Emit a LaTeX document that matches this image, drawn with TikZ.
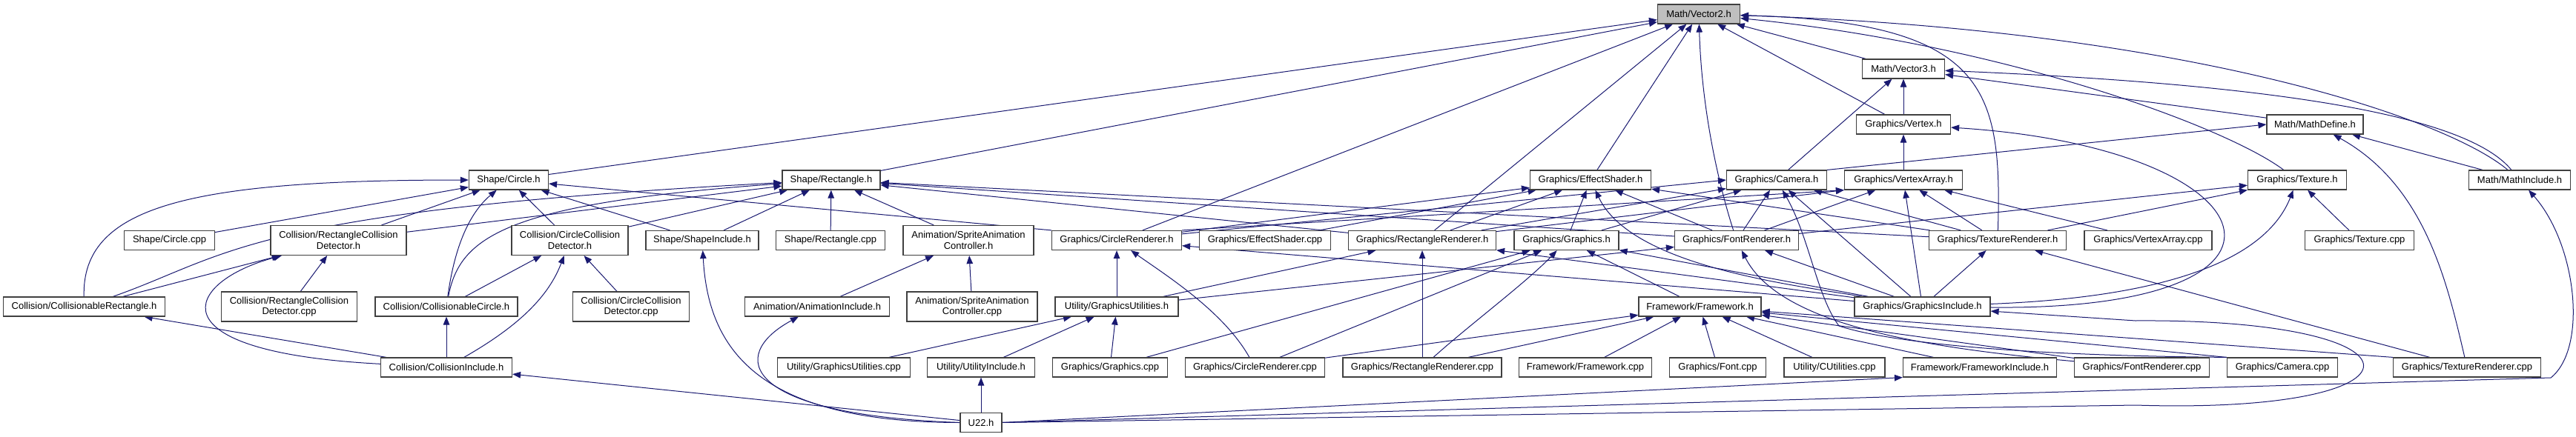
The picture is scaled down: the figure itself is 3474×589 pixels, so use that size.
\documentclass[tikz,border=0pt]{standalone}
\usepackage{fontspec}
\setmainfont{Liberation Sans}
\usetikzlibrary{arrows.meta,backgrounds}
\definecolor{edgeblue}{HTML}{191970}
\definecolor{boxgray}{HTML}{404040}
\definecolor{curfill}{HTML}{BFBFBF}

\begin{document}
\begin{tikzpicture}[x=1pt, y=-1pt,
    file/.style={draw=boxgray, line width=1.2pt, fill=white, minimum height=26pt, inner sep=0pt, font=\fontsize{13}{14.5}\selectfont},
    twoline/.style={file, minimum height=40pt, align=center},
    inc/.style={draw=edgeblue, line width=1pt, -{Triangle[length=11pt,width=8.5pt]}}]
\useasboundingbox (0,0) rectangle (3474,589);

\node[file, fill=curfill, minimum width=111] (vtwo) at (2291,19) {Math/Vector2.h};
\node[file, minimum width=111] (vthree) at (2567,93) {Math/Vector3.h};
\node[file, minimum width=127] (vertex) at (2567,168) {Graphics/Vertex.h};
\node[file, minimum width=130] (mdefine) at (3122,168) {Math/MathDefine.h};

\node[file, minimum width=107] (circh) at (686,243) {Shape/Circle.h};
\node[file, minimum width=132] (recth) at (1121,243) {Shape/Rectangle.h};
\node[file, minimum width=163] (shader) at (2145,243) {Graphics/EffectShader.h};
\node[file, minimum width=135] (camera) at (2396,243) {Graphics/Camera.h};
\node[file, minimum width=159] (varray) at (2567,243) {Graphics/VertexArray.h};
\node[file, minimum width=133] (texture) at (3098,243) {Graphics/Texture.h};
\node[file, minimum width=137] (minclude) at (3398,243) {Math/MathInclude.h};

\node[file, minimum width=122] (circcpp) at (228.5,324.5) {Shape/Circle.cpp};
\node[twoline, minimum width=183] (rcdh) at (456.5,324.5) {Collision/RectangleCollision\\Detector.h};
\node[twoline, minimum width=157] (ccdh) at (768.5,324.5) {Collision/CircleCollision\\Detector.h};
\node[file, minimum width=152] (shinc) at (947,324.5) {Shape/ShapeInclude.h};
\node[file, minimum width=147] (rectcpp) at (1120,324.5) {Shape/Rectangle.cpp};
\node[twoline, minimum width=176] (sach) at (1306,324.5) {Animation/SpriteAnimation\\Controller.h};
\node[file, minimum width=175] (crendh) at (1506,324.5) {Graphics/CircleRenderer.h};
\node[file, minimum width=177] (shadercpp) at (1706,324.5) {Graphics/EffectShader.cpp};
\node[file, minimum width=199] (rrendh) at (1918,324.5) {Graphics/RectangleRenderer.h};
\node[file, minimum width=141] (graphh) at (2112.5,324.5) {Graphics/Graphics.h};
\node[file, minimum width=167] (frendh) at (2342,324.5) {Graphics/FontRenderer.h};
\node[file, minimum width=185] (trendh) at (2694,324.5) {Graphics/TextureRenderer.h};
\node[file, minimum width=172] (varraycpp) at (2897,324.5) {Graphics/VertexArray.cpp};
\node[file, minimum width=147] (texcpp) at (3182,324.5) {Graphics/Texture.cpp};

\node[file, minimum width=218] (colrect) at (113.6,414) {Collision/CollisionableRectangle.h};
\node[twoline, minimum width=183] (rcdcpp) at (390,414) {Collision/RectangleCollision\\Detector.cpp};
\node[file, minimum width=192] (colcirc) at (602,414) {Collision/CollisionableCircle.h};
\node[twoline, minimum width=157] (ccdcpp) at (851,414) {Collision/CircleCollision\\Detector.cpp};
\node[file, minimum width=195] (aniinc) at (1102,414) {Animation/AnimationInclude.h};
\node[twoline, minimum width=176] (sacpp) at (1311,414) {Animation/SpriteAnimation\\Controller.cpp};
\node[file, minimum width=166] (gutilh) at (1506,414) {Utility/GraphicsUtilities.h};
\node[file, minimum width=165] (fwh) at (2292.5,414) {Framework/Framework.h};
\node[file, minimum width=183] (ginc) at (2592.5,414) {Graphics/GraphicsInclude.h};

\node[file, minimum width=177] (colinc) at (602,496) {Collision/CollisionInclude.h};
\node[file, minimum width=179] (gutilcpp) at (1138,496) {Utility/GraphicsUtilities.cpp};
\node[file, minimum width=145] (utilinc) at (1323,496) {Utility/UtilityInclude.h};
\node[file, minimum width=155] (graphcpp) at (1497,496) {Graphics/Graphics.cpp};
\node[file, minimum width=188] (crendcpp) at (1692.5,496) {Graphics/CircleRenderer.cpp};
\node[file, minimum width=214] (rrendcpp) at (1918,496) {Graphics/RectangleRenderer.cpp};
\node[file, minimum width=179] (fwcpp) at (2138,496) {Framework/Framework.cpp};
\node[file, minimum width=130] (fontcpp) at (2316.5,496) {Graphics/Font.cpp};
\node[file, minimum width=136] (cutilcpp) at (2474,496) {Utility/CUtilities.cpp};
\node[file, minimum width=207] (fwinc) at (2670,496) {Framework/FrameworkInclude.h};
\node[file, minimum width=182] (frendcpp) at (2888.5,496) {Graphics/FontRenderer.cpp};
\node[file, minimum width=149] (camcpp) at (3078,496) {Graphics/Camera.cpp};
\node[file, minimum width=199] (trendcpp) at (3327,496) {Graphics/TextureRenderer.cpp};

\node[file, minimum width=56] (u22) at (1323,570.5) {U22.h};

\begin{scope}[on background layer]
\draw[inc] (circh) -- (vtwo);
\draw[inc] (recth) -- (vtwo);
\draw[inc] (crendh) -- (vtwo);
\draw[inc] (rrendh) -- (vtwo);
\draw[inc] (shader) -- (vtwo);
\draw[inc] (frendh) .. controls (2318,250) and (2295,150) .. (vtwo);
\draw[inc] (vthree) -- (vtwo);
\draw[inc] (vertex) -- (vtwo);
\draw[inc] (trendh) .. controls (2700,120) and (2680,30) .. (vtwo);
\draw[inc] (texture) .. controls (3000,170) and (2700,60) .. (vtwo);
\draw[inc] (minclude) .. controls (3300,160) and (2950,40) .. (vtwo);

\draw[inc] (vertex) -- (vthree);
\draw[inc] (camera) -- (vthree);
\draw[inc] (mdefine) -- (vthree);
\draw[inc] (minclude) .. controls (3330,160) and (3100,115) .. (vthree);

\draw[inc] (camera.north east) -- (mdefine.west);
\draw[inc] (minclude) -- (mdefine);
\draw[inc] (trendcpp) .. controls (3300,380) and (3270,250) .. (mdefine);
\draw[inc] (u22.east) -- (3440,510) .. controls (3490,470) and (3475,330) .. (minclude);

\draw[inc] (frendh) -- (texture);
\draw[inc] (trendh) -- (texture);
\draw[inc] (texcpp) -- (texture);
\draw[inc] (ginc) .. controls (2950,400) and (3060,340) .. (texture);
\draw[inc] (varray) -- (vertex);
\draw[inc] (ginc) .. controls (3150,420) and (3070,200) .. (vertex);

\draw[inc] (colrect) .. controls (110,280) and (250,243) .. (circh);
\draw[inc] (rcdh) -- (circh);
\draw[inc] (circcpp) -- (circh);
\draw[inc] (colcirc) .. controls (612,340) and (630,290) .. (circh);
\draw[inc] (ccdh) -- (circh);
\draw[inc] (shinc) -- (circh);
\draw[inc] (crendh.north west) -- (circh);

\draw[inc] (colrect) .. controls (310,345) and (330,285) .. (recth);
\draw[inc] (rcdh) -- (recth);
\draw[inc] (colcirc) .. controls (620,320) and (680,275) .. (recth);
\draw[inc] (ccdh) -- (recth);
\draw[inc] (shinc) -- (recth);
\draw[inc] (rectcpp) -- (recth);
\draw[inc] (sach) -- (recth);
\draw[inc] (rrendh) -- (recth);
\draw[inc] (frendh) -- (recth);
\draw[inc] (trendh) -- (recth);

\draw[inc] (crendh) -- (shader);
\draw[inc] (shadercpp) -- (shader);
\draw[inc] (rrendh) -- (shader);
\draw[inc] (graphh) -- (shader);
\draw[inc] (frendh) -- (shader);
\draw[inc] (trendh) -- (shader);
\draw[inc] (ginc) .. controls (2420,385) and (2200,360) .. (shader);

\draw[inc] (crendh) -- (camera.west);
\draw[inc] (rrendh) -- (camera);
\draw[inc] (graphh) -- (camera);
\draw[inc] (frendh) -- (camera);
\draw[inc] (trendh) -- (camera);
\draw[inc] (ginc) -- (camera);
\draw[inc] (camcpp.north west) .. controls (2700,480) and (2540,460) .. (2480,440) .. controls (2450,400) and (2440,320) .. (camera);

\draw[inc] (crendh.north east) -- (varray.south west);
\draw[inc] (rrendh) -- (varray.south west);
\draw[inc] (frendh) -- (varray);
\draw[inc] (trendh) -- (varray);
\draw[inc] (varraycpp) -- (varray);
\draw[inc] (ginc) -- (varray);

\draw[inc] (graphcpp) -- (graphh);
\draw[inc] (crendcpp) -- (graphh);
\draw[inc] (rrendcpp) .. controls (1980,440) and (2060,380) .. (graphh);
\draw[inc] (fwh) -- (graphh);
\draw[inc] (ginc) -- (graphh);

\draw[inc] (gutilh) -- (crendh);
\draw[inc] (crendcpp) .. controls (1650,420) and (1570,370) .. (crendh);
\draw[inc] (ginc) -- (crendh);
\draw[inc] (gutilh) -- (rrendh);
\draw[inc] (rrendcpp) -- (rrendh);
\draw[inc] (ginc) -- (rrendh);
\draw[inc] (gutilh) -- (frendh);
\draw[inc] (frendcpp) .. controls (2600,470) and (2400,440) .. (frendh);
\draw[inc] (ginc) -- (frendh);
\draw[inc] (trendcpp) -- (trendh);
\draw[inc] (ginc) -- (trendh);

\draw[inc] (crendcpp) -- (fwh);
\draw[inc] (rrendcpp) -- (fwh);
\draw[inc] (fwcpp) -- (fwh);
\draw[inc] (fontcpp) -- (fwh);
\draw[inc] (cutilcpp) -- (fwh);
\draw[inc] (fwinc) -- (fwh);
\draw[inc] (frendcpp) -- (fwh);
\draw[inc] (camcpp.north west) -- (fwh);
\draw[inc] (trendcpp.north west) -- (fwh);

\draw[inc] (gutilcpp) -- (gutilh);
\draw[inc] (utilinc) -- (gutilh);
\draw[inc] (graphcpp) -- (gutilh);

\draw[inc] (sacpp) -- (sach);
\draw[inc] (aniinc) -- (sach);
\draw[inc] (rcdcpp) -- (rcdh);
\draw[inc] (colrect) -- (rcdh);
\draw[inc] (colinc) .. controls (200,475) and (250,380) .. (rcdh);
\draw[inc] (ccdcpp) -- (ccdh);
\draw[inc] (colcirc) -- (ccdh);
\draw[inc] (colinc) .. controls (700,440) and (740,400) .. (ccdh);
\draw[inc] (colinc) -- (colrect);
\draw[inc] (colinc) -- (colcirc);

\draw[inc] (u22) -- (colinc);
\draw[inc] (u22.west) .. controls (1020,570) and (955,470) .. (shinc);
\draw[inc] (u22.west) .. controls (1000,560) and (980,480) .. (aniinc);
\draw[inc] (u22) -- (utilinc);
\draw[inc] (u22.east) -- (fwinc.south west);
\draw[inc] (u22.east) -- (2880,547) .. controls (3290,560) and (3290,430) .. (2880,433) -- (ginc);
\end{scope}
\end{tikzpicture}
\end{document}
